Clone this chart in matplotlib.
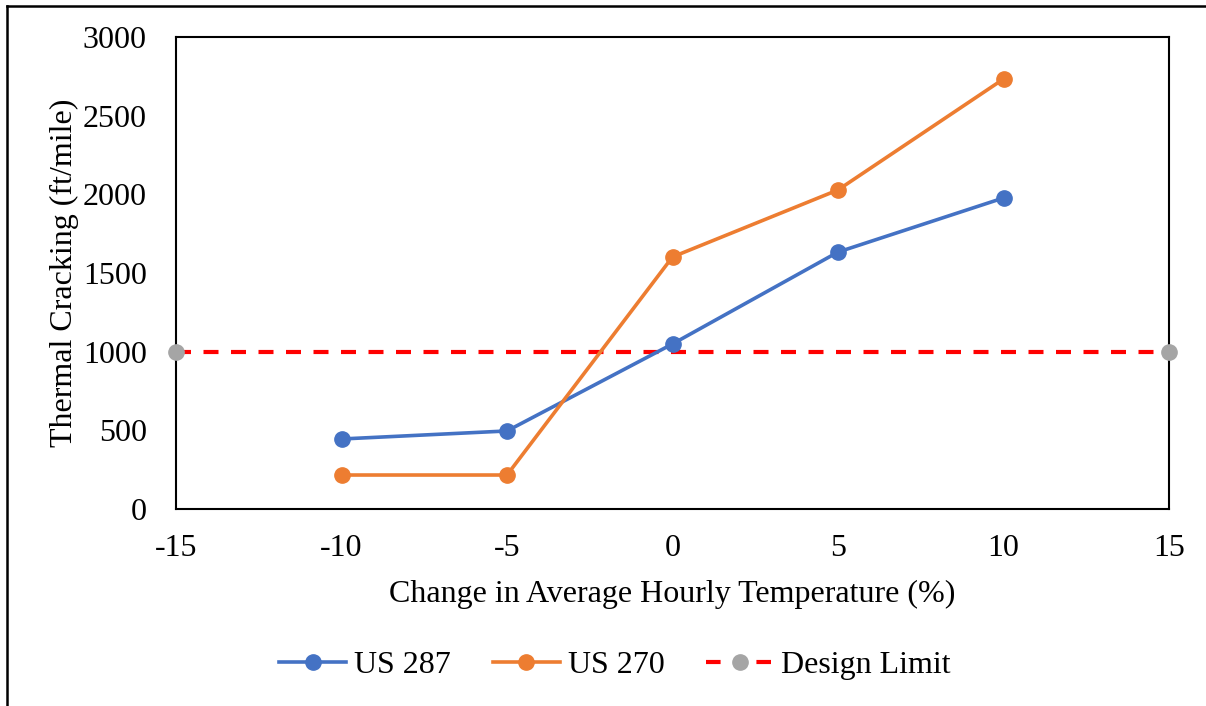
import matplotlib
matplotlib.use("Agg")
import matplotlib.pyplot as plt
from matplotlib.lines import Line2D

x_vals = [-10, -5, 0, 5, 10]
us287 = [445, 496, 1049, 1633, 1977]
us270 = [216, 216, 1602, 2028, 2733]
limit_x = [-15, 15]
limit_y = [1000, 1000]
x_ticks = [-15, -10, -5, 0, 5, 10, 15]
y_ticks = [0, 500, 1000, 1500, 2000, 2500, 3000]

plt.rcParams['font.family'] = ['Liberation Serif', 'DejaVu Serif']
plt.rcParams['axes.unicode_minus'] = False

FS = 23
W, H = 1206, 706
fig = plt.figure(figsize=(W / 100, H / 100), dpi=100)
ax = fig.add_axes([176 / W, 1 - 509 / H, (1169 - 176) / W, (509 - 37) / H])

blue = '#4472C4'
orange = '#ED7D31'
ax.plot(limit_x, limit_y, color='#FF0000', lw=3, dashes=(3.6, 3.0),
        marker='o', markersize=11, markerfacecolor='#A5A5A5',
        markeredgecolor='#A5A5A5', label='Design Limit', zorder=3, clip_on=False)
ax.plot(x_vals, us287, color=blue, lw=2.6, marker='o', markersize=11,
        label='US 287', zorder=4)
ax.plot(x_vals, us270, color=orange, lw=2.6, marker='o', markersize=11,
        label='US 270', zorder=4)

ax.set_xlim(-15, 15)
ax.set_ylim(0, 3000)
ax.set_xticks(x_ticks)
ax.set_yticks(y_ticks)
ax.tick_params(axis='both', length=0, labelsize=FS)
ax.tick_params(axis='y', pad=21)
ax.tick_params(axis='x', pad=18)
for s in ax.spines.values():
    s.set_linewidth(1.5)
    s.set_color('black')

ax.set_xlabel('Change in Average Hourly Temperature (%)', fontsize=FS, labelpad=12)
ax.set_ylabel('Thermal Cracking (ft/mile)', fontsize=FS, labelpad=3)

handles = [
    Line2D([], [], color=blue, lw=2.6, marker='o', markersize=11),
    Line2D([], [], color=orange, lw=2.6, marker='o', markersize=11),
    Line2D([], [], color='#FF0000', lw=3, dashes=(3.5, 8.6), marker='o', markersize=11,
           markerfacecolor='#A5A5A5', markeredgecolor='#A5A5A5'),
]
fig.legend(handles, ['US 287', 'US 270', 'Design Limit'], loc='center',
           bbox_to_anchor=(615 / W, 1 - 665 / H), ncol=3, frameon=False,
           fontsize=FS, handlelength=2.1, columnspacing=1.3, handletextpad=0.25)

# figure frame (top and left edges)
fig.add_artist(Line2D([7 / W, 1], [1 - 6 / H, 1 - 6 / H], color='black', lw=1.8,
                      transform=fig.transFigure))
fig.add_artist(Line2D([7 / W, 7 / W], [0, 1 - 6 / H], color='black', lw=1.8,
                      transform=fig.transFigure))

fig.savefig('out.png', dpi=100, facecolor='white')
